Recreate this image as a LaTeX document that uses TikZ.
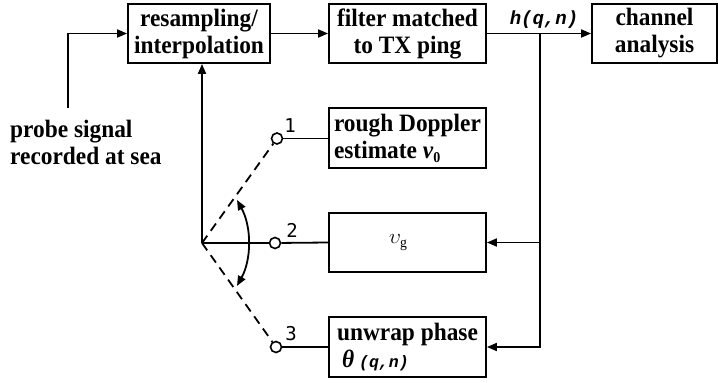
\RequirePackage{fix-cm}
\documentclass[tikz,border=0pt]{standalone}
\usepackage{fontspec}
\setmainfont{Liberation Serif}[FakeStretch=0.935]
\newfontfamily\monof{Liberation Mono}
\newfontfamily\digf{DejaVu Sans Mono}
\usetikzlibrary{arrows.meta}
\begin{document}
\begin{tikzpicture}[x=1pt,y=-1pt,
 box/.style={draw, line width=1.8pt, inner sep=0pt, minimum height=59pt, font=\bfseries\fontsize{25}{27}\selectfont, align=center},
 lbox/.style={box, align=left},
 conn/.style={line width=1.8pt},
 arr/.style={conn,-{Triangle[length=10pt,width=8pt]}},
 dsh/.style={conn, dash pattern=on 9pt off 6pt},
 sw/.style={circle,draw,line width=1.6pt,minimum size=11pt,inner sep=0pt,fill=white},
 num/.style={font=\digf\fontsize{19}{19}\selectfont, inner sep=0pt},
 txt/.style={font=\bfseries\fontsize{25}{27}\selectfont, inner sep=0pt, align=left}
]
\useasboundingbox (0,0) rectangle (718,383);
% boxes
\node[box,minimum width=142pt] (res) at (199,33.5) {resampling/\\interpolation};
\node[box,minimum width=157pt] (filt) at (407.5,33.5) {filter matched\\to TX ping};
\node[box,minimum width=125pt] (chan) at (654.5,33.5) {channel\\analysis};
\node[lbox,minimum width=157pt,minimum height=60pt] (dop) at (407.5,138) {rough Doppler\\estimate {\itshape v}\raisebox{-4pt}{\fontsize{15}{15}\selectfont 0}};
\node[box,minimum width=157pt,font=\fontsize{21}{22}\selectfont] (vg) at (407.5,242.5) {\kern-18pt$\upsilon_{\mathrm{g}}$};
\node[lbox,minimum width=157pt,minimum height=60pt] (unw) at (407.5,347) {unwrap phase\\\kern5pt{\itshape θ}\kern5pt{\monof\fontsize{16.5}{16.5}\selectfont\bfseries\itshape (q,n)}};
% input
\node[txt,anchor=west] (probe) at (10,142) {probe signal\\recorded at sea};
\coordinate (in) at (68,108);
\draw[arr] (in) |- (res.west);
\draw[arr] (res.east) -- (filt.west);
\draw[arr] (filt.east) -- (chan.west);
\node[font=\monof\fontsize{19}{19}\selectfont\bfseries\itshape, inner sep=0pt] (h) at (544,20) {h(q,n)};
% branch
\coordinate (br) at (540,33.5);
\draw[arr] (br) |- (unw.east);
\draw[arr] (br |- vg.east) -- (vg.east);
% switch
\coordinate (piv) at (202,243);
\node[sw] (c1) at (277,138.5) {};
\node[sw] (c2) at (275,243) {};
\node[sw] (c3) at (276,347) {};
\node[num] (n1) at (290,126) {1};
\node[num] (n2) at (292,230) {2};
\node[num] (n3) at (291,334) {3};
\draw[arr] (piv) -- (piv |- res.south);
\draw[conn] (piv) -- (c2);
\draw[dsh] (piv) -- (c1);
\draw[dsh] (piv) -- (c3);
\draw[conn] (c1) -- (c1 -| dop.west);
\draw[conn] (c2) -- (vg.west);
\draw[conn] (c3) -- (unw.west);
% arc arrow
\draw[conn,{Triangle[length=10pt,width=8pt]}-{Triangle[length=10pt,width=8pt]}] (237,200) arc[start angle=-28.7, end angle=28.7, radius=89.5];
\end{tikzpicture}
\end{document}
